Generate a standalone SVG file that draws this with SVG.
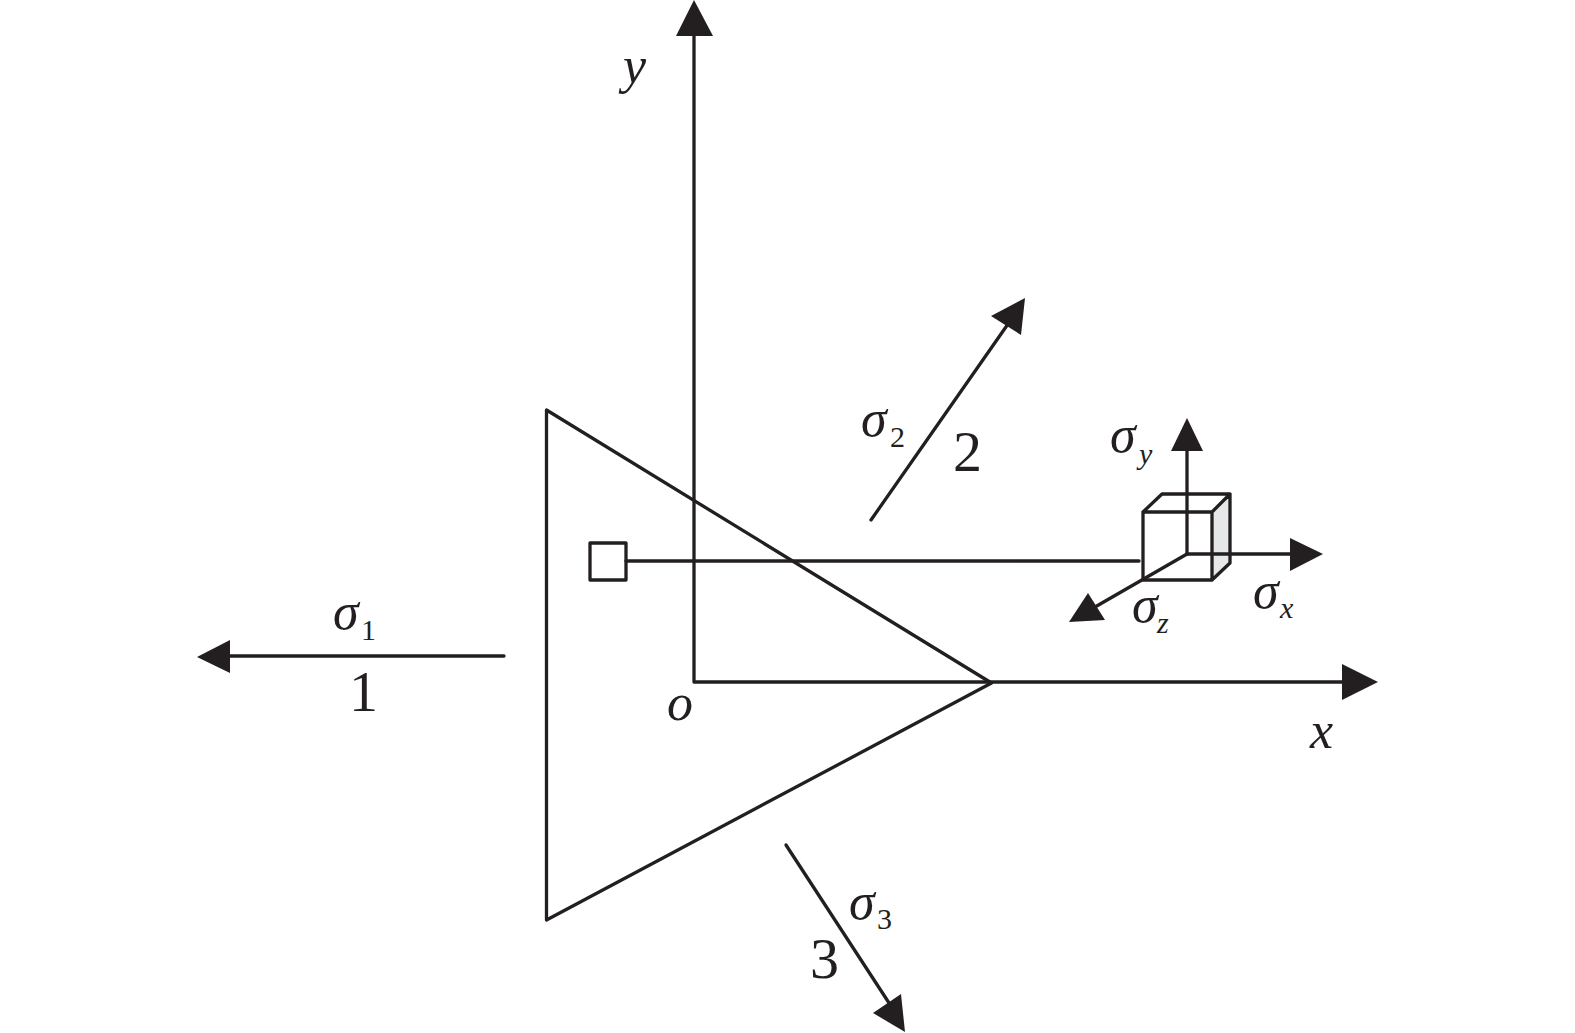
<svg xmlns="http://www.w3.org/2000/svg" width="1575" height="1033" viewBox="0 0 1575 1033">
<style>
.l{fill:none;stroke:#231f20;stroke-width:3.3;stroke-linejoin:round;stroke-linecap:round}
.a{fill:#231f20;stroke:none}
text{font-family:"Liberation Serif","Times New Roman",serif;fill:#231f20}
.i{font-style:italic;font-size:52px}
.s{font-style:italic;font-size:52px}
.b{font-style:italic;font-size:30px}
.n{font-size:30px}
.d{font-size:58px}
</style>
<rect width="1575" height="1033" fill="#fff"/>
<g id="triangle"><path class="l" d="M546.5 410V920L991.5 683Z"/></g>
<g id="cube-face"><path d="M1212 512L1230 494V563L1212 580Z" fill="#e6e7e8"/></g>
<g id="connectors">
<path class="l" d="M694 30V682H1346"/>
<path class="a" d="M694 0L713 36H676Z"/>
<path class="a" d="M1378 682L1342 664V700Z"/>
<path class="l" d="M504 656H226"/>
<path class="a" d="M197 657L230 640V673Z"/>
<path class="l" d="M871 520L1008 324"/>
<path class="a" d="M1025 298L1021 335L991 316Z"/>
<path class="l" d="M786 845L891 1006"/>
<path class="a" d="M905 1032L873 1013L901 994Z"/>
<path class="l" d="M626 561H1139"/>
<path class="l" d="M1187 554V447"/>
<path class="a" d="M1187 418L1203 451H1171Z"/>
<path class="l" d="M1187 554H1295"/>
<path class="a" d="M1323 554L1290 538V571Z"/>
<path class="l" d="M1187 554L1095 607"/>
<path class="a" d="M1069 622L1088 593L1105 620Z"/>
</g>
<g id="small-square"><rect class="l" x="590" y="543" width="36" height="37"/></g>
<g id="cube">
<path class="l" d="M1143 512H1212V580H1143ZM1143 512L1162 494H1230V563L1212 580M1212 512L1230 494"/>
</g>
<g id="labels">
<text class="i" x="623" y="83">y</text>
<text class="i" x="1310" y="748">x</text>
<text class="i" x="667" y="720">o</text>
<text class="s" x="333" y="629">σ</text><text class="n" x="361" y="640">1</text>
<text class="d" x="349" y="711">1</text>
<text class="s" x="861" y="436">σ</text><text class="n" x="890" y="447">2</text>
<text class="d" x="953" y="471">2</text>
<text class="s" x="849" y="919">σ</text><text class="n" x="877" y="929">3</text>
<text class="d" x="810" y="978">3</text>
<text class="s" x="1110" y="452">σ</text><text class="b" x="1139" y="464">y</text>
<text class="s" x="1253" y="608">σ</text><text class="b" x="1280" y="618">x</text>
<text class="s" x="1132" y="622">σ</text><text class="b" x="1157" y="633">z</text>
</g>
</svg>
